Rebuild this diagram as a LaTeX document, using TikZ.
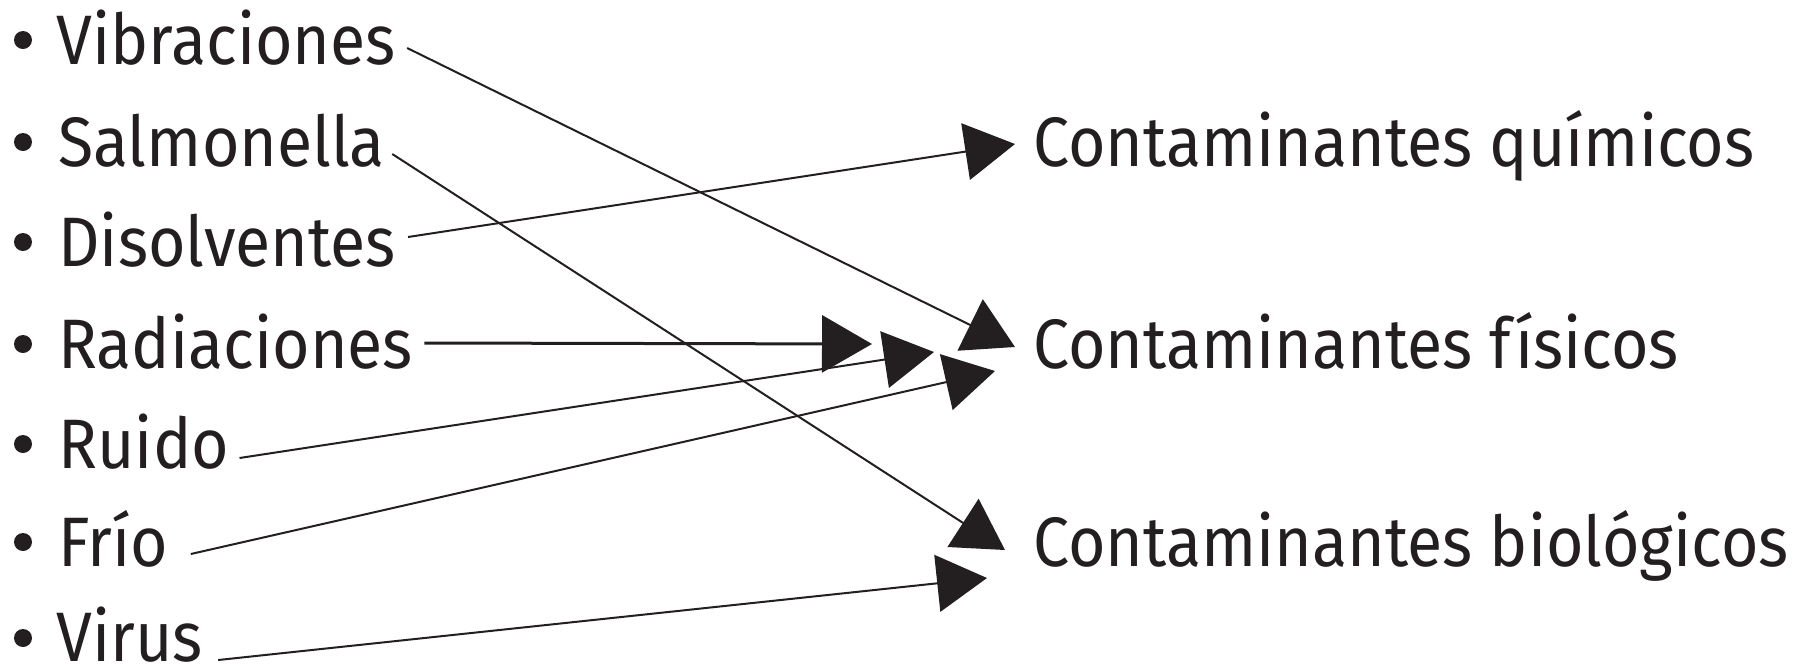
\documentclass[tikz,border=0pt]{standalone}
\usepackage{fontspec}
\setmainfont{Fira Sans}[FakeStretch=0.92]
\usetikzlibrary{arrows.meta,calc}
\definecolor{ink}{HTML}{231F20}
\begin{document}
\begin{tikzpicture}[x=0.5pt,y=-0.5pt,
  lbl/.style={anchor=base west, inner sep=0pt, text=ink, font=\fontsize{35pt}{40pt}\selectfont},
  con/.style={draw=ink, line width=1pt, -{Triangle[length=25pt,width=28.5pt]}},
  bul/.style={fill=ink}]
\useasboundingbox (0,0) rectangle (1810,671);
% left column
\node[lbl] (vib) at (56,64)  {Vibraciones};
\node[lbl] (sal) at (58,166) {Salmonella};
\node[lbl] (dis) at (58,266) {Disolventes};
\node[lbl] (rad) at (58,368) {Radiaciones};
\node[lbl] (rui) at (58,468) {Ruido};
\node[lbl] (fri) at (58,566) {Frío};
\node[lbl] (vir) at (56,661) {Virus};
\foreach \y in {40,142,242,344,444,542,638} \fill[bul] (23,\y) circle (9);
% right column
\node[lbl] (qui) at (1033,166) {Contaminantes químicos};
\node[lbl] (fis) at (1033,368) {Contaminantes físicos};
\node[lbl] (bio) at (1033,566) {Contaminantes biológicos};
% arrow tips
\coordinate (tq)  at (1015,144);
\coordinate (tfv) at (1015,347);
\coordinate (tfr) at (872,344);
\coordinate (tfu) at (934,352);
\coordinate (tff) at (995,371);
\coordinate (tbs) at (1005,550);
\coordinate (tbv) at (987,578);
% connectors
\draw[con] ($(vib.base east)+(11,-16)$) -- (tfv);
\draw[con] ($(sal.base east)+(7,-12)$) -- (tbs);
\draw[con] ($(dis.base east)+(12,-29)$) -- (tq);
\draw[con, line width=1.5pt] ($(rad.base east)+(11,-25)$) -- (tfr);
\draw[con] ($(rui.base east)+(10,-10)$) -- (tfu);
\draw[con] ($(fri.base east)+(22,-12)$) -- (tff);
\draw[con] ($(vir.base east)+(15,-1)$) -- (tbv);
\end{tikzpicture}
\end{document}
